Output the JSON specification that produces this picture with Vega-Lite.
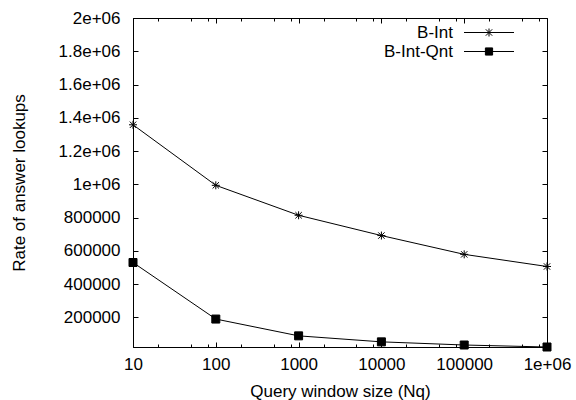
{
  "$schema": "https://vega.github.io/schema/vega-lite/v6.json",
  "width": 414,
  "height": 329,
  "autosize": {"type": "none"},
  "padding": {"left": 133, "top": 18, "right": 29, "bottom": 53},
  "background": "white",
  "config": {
    "view": {"stroke": "black", "strokeWidth": 1},
    "font": "Liberation Sans",
    "axis": {
      "grid": false,
      "domainColor": "black",
      "tickColor": "black",
      "labelColor": "black",
      "titleColor": "black",
      "labelFont": "Liberation Sans",
      "titleFont": "Liberation Sans",
      "labelFontSize": 17,
      "titleFontSize": 17,
      "titleFontWeight": "normal"
    },
    "legend": {"labelFont": "Liberation Sans", "labelFontSize": 17, "labelColor": "black"}
  },
  "data": {
    "values": [
      {"series": "B-Int", "nq": 10, "rate": 1358000},
      {"series": "B-Int", "nq": 100, "rate": 994000},
      {"series": "B-Int", "nq": 1000, "rate": 814000},
      {"series": "B-Int", "nq": 10000, "rate": 692000},
      {"series": "B-Int", "nq": 100000, "rate": 579000},
      {"series": "B-Int", "nq": 1000000, "rate": 506000},
      {"series": "B-Int-Qnt", "nq": 10, "rate": 530000},
      {"series": "B-Int-Qnt", "nq": 100, "rate": 190000},
      {"series": "B-Int-Qnt", "nq": 1000, "rate": 89000},
      {"series": "B-Int-Qnt", "nq": 10000, "rate": 53000},
      {"series": "B-Int-Qnt", "nq": 100000, "rate": 34000},
      {"series": "B-Int-Qnt", "nq": 1000000, "rate": 22000}
    ]
  },
  "resolve": {"axis": {"x": "independent", "y": "independent"}},
  "layer": [
    {
      "mark": {"type": "line", "stroke": "black", "strokeWidth": 1},
      "encoding": {
        "x": {
          "field": "nq", "type": "quantitative",
          "scale": {"type": "log", "domain": [10, 1000000], "nice": false},
          "axis": {
            "orient": "bottom",
            "title": "Query window size (Nq)",
            "values": [10,20,50,80,100,200,500,800,1000,2000,5000,8000,10000,20000,50000,80000,100000,200000,500000,800000,1000000],
            "labelExpr": "datum.value == 1000000 ? '1e+06' : (indexof([10,100,1000,10000,100000], datum.value) >= 0 ? format(datum.value, 'd') : '')",
            "tickSize": {"condition": {"test": "indexof([10,100,1000,10000,100000,1000000], datum.value) >= 0", "value": -5}, "value": -3},
            "labelPadding": 14,
            "labelFlush": false,
            "labelOverlap": false,
            "titlePadding": 9
          }
        },
        "y": {
          "field": "rate", "type": "quantitative",
          "scale": {"domain": [22000, 2000000], "nice": false, "zero": false},
          "axis": {
            "orient": "left",
            "title": "Rate of answer lookups",
            "values": [200000,400000,600000,800000,1000000,1200000,1400000,1600000,1800000,2000000],
            "labelExpr": "datum.value >= 1000000 ? replace(format(datum.value, '.2~e'), 'e+6', 'e+06') : format(datum.value, 'd')",
            "tickSize": -5,
            "labelPadding": 18,
            "labelOverlap": false,
            "titlePadding": 30
          }
        },
        "color": {
          "field": "series", "type": "nominal",
          "scale": {"domain": ["B-Int", "B-Int-Qnt"], "range": ["black", "black"]},
          "legend": {
            "title": null,
            "orient": "none",
            "legendX": 331,
            "legendY": 6,
            "padding": 0,
            "symbolSize": 64,
            "rowPadding": 1,
            "encode": {
              "symbols": {
                "update": {
                  "shape": {"signal": "datum.value == 'B-Int' ? 'M-6.25,0L6.25,0M0,-1L0,1M-0.8,-0.8L0.8,0.8M-0.8,0.8L0.8,-0.8' : 'M-6.25,0L6.25,0M-0.9,-0.9L0.9,-0.9L0.9,0.9L-0.9,0.9Z'"},
                  "x": {"value": 25},
                  "fill": {"value": "black"},
                  "stroke": {"value": "black"},
                  "strokeWidth": {"value": 1},
                  "opacity": {"value": 1}
                }
              },
              "labels": {
                "update": {
                  "x": {"value": -11},
                  "align": {"value": "right"}
                }
              }
            }
          }
        }
      }
    },
    {
      "mark": {"type": "point", "opacity": 1, "size": 64, "strokeWidth": 1, "stroke": "black"},
      "encoding": {
        "x": {
          "field": "nq", "type": "quantitative",
          "axis": {
            "orient": "top",
            "title": null,
            "labels": false,
            "domain": false,
            "values": [10,20,50,80,100,200,500,800,1000,2000,5000,8000,10000,20000,50000,80000,100000,200000,500000,800000,1000000],
            "tickSize": {"condition": {"test": "indexof([10,100,1000,10000,100000,1000000], datum.value) >= 0", "value": -5}, "value": -3}
          }
        },
        "y": {
          "field": "rate", "type": "quantitative",
          "axis": {
            "orient": "right",
            "title": null,
            "labels": false,
            "domain": false,
            "values": [200000,400000,600000,800000,1000000,1200000,1400000,1600000,1800000,2000000],
            "tickSize": -5
          }
        },
        "shape": {
          "condition": {"test": "datum.series == 'B-Int'", "value": "M0,-1L0,1M-1,0L1,0M-0.8,-0.8L0.8,0.8M-0.8,0.8L0.8,-0.8"},
          "value": "square"
        },
        "fill": {
          "condition": {"test": "datum.series == 'B-Int'", "value": "transparent"},
          "value": "black"
        }
      }
    }
  ]
}
